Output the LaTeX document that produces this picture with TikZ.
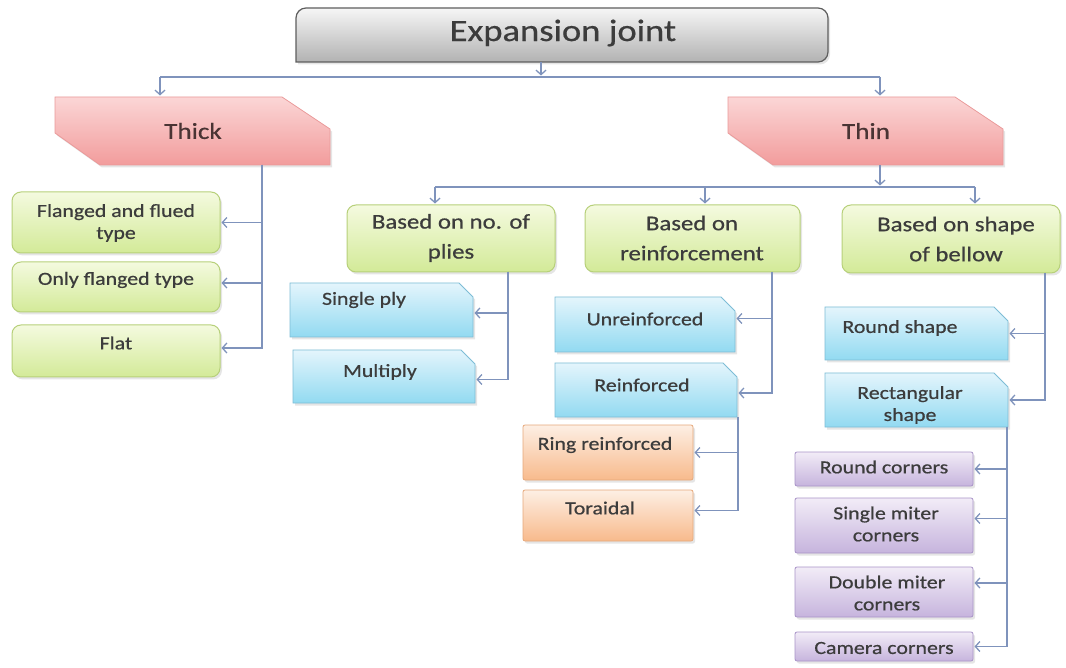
\documentclass[tikz,border=0pt]{standalone}
\usepackage{fontspec}
\setmainfont{Carlito}[FakeStretch=1.18,FakeBold=0.6]
\usetikzlibrary{arrows.meta,shadows}
\pgfdeclarelayer{background}
\pgfsetlayers{background,main}
\definecolor{conn}{HTML}{7F93BC}
\definecolor{gtop}{HTML}{F4FADF}\definecolor{gbot}{HTML}{D3EA98}\definecolor{gline}{HTML}{B7D07A}
\definecolor{btop}{HTML}{E4F5FC}\definecolor{bbot}{HTML}{92DAF1}\definecolor{bline}{HTML}{7DBDD6}
\definecolor{otop}{HTML}{FDEFE4}\definecolor{obot}{HTML}{F8BA8C}\definecolor{oline}{HTML}{E6A87A}
\definecolor{ptop}{HTML}{F2ECF7}\definecolor{pbot}{HTML}{C6B4DD}\definecolor{pline}{HTML}{A994C8}
\definecolor{rtop}{HTML}{FBD6D6}\definecolor{rbot}{HTML}{F29C9C}\definecolor{rline}{HTML}{EA9A9A}
\definecolor{ttop}{HTML}{F6F6F6}\definecolor{tbot}{HTML}{B2B2B2}\definecolor{tline}{HTML}{5E5E5E}
\definecolor{txt}{HTML}{3C3C3C}\definecolor{rtxt}{HTML}{4A3434}
\tikzset{
  bx/.style={rectangle, inner sep=0pt, outer sep=0pt},
  tx/.style={inner sep=0pt, align=center, text=txt},
  line/.style={draw=conn, line width=1.3pt},
  arr/.style={line, -{Straight Barb[length=4.5pt,width=10pt]}, shorten >=1.5pt},
  shd/.style={drop shadow={opacity=0.2, shadow xshift=2pt, shadow yshift=-2.5pt}},
  gbox/.style={bx, rounded corners=9pt, top color=gtop, bottom color=gbot, draw=gline, line width=1pt, shd},
  obox/.style={bx, rounded corners=2pt, top color=otop, bottom color=obot, draw=oline, line width=0.8pt, shd},
  pbox/.style={bx, rounded corners=2pt, top color=ptop, bottom color=pbot, draw=pline, line width=0.8pt, shd},
  big/.style={font=\fontsize{31}{34}\selectfont},
  mid/.style={font=\fontsize{23}{26}\selectfont},
  gfont/.style={font=\fontsize{21}{30}\selectfont},
  sfont/.style={font=\fontsize{18.5}{22}\selectfont},
}
\newcommand\snipbox[1]{\shade[top color=btop,bottom color=bbot,draw=bline,line width=0.8pt,shd]
  (#1.south west) -- (#1.north west) -- ([xshift=-14pt]#1.north east) -- ([yshift=-14pt]#1.north east) -- (#1.south east) -- cycle;}
\newcommand\pinkbox[1]{\shade[top color=rtop,bottom color=rbot,draw=rline,line width=0.8pt,shd]
  (#1.north west) -- ([xshift=-48pt]#1.north east) -- ([yshift=-32pt]#1.north east) -- (#1.south east)
  -- ([xshift=45pt]#1.south west) -- ([yshift=32pt]#1.south west) -- cycle;}
\begin{document}
\begin{tikzpicture}[x=1pt,y=-1pt]
\useasboundingbox (0,0) rectangle (1066,668);
% ---------- boxes ----------
\node[bx, minimum width=532pt, minimum height=54pt] (title) at (562,35) {};
\node[bx, minimum width=275pt, minimum height=68pt] (thick) at (192.5,131) {};
\node[bx, minimum width=275pt, minimum height=68pt] (thin) at (865.5,131) {};
\node[gbox, minimum width=208pt, minimum height=61pt] (ff) at (116,222.5) {};
\node[gbox, minimum width=208pt, minimum height=50pt] (of) at (116,287) {};
\node[gbox, minimum width=208pt, minimum height=52pt] (fl) at (116,351) {};
\node[gbox, minimum width=208pt, minimum height=67pt] (plies) at (451,238.5) {};
\node[gbox, minimum width=215pt, minimum height=67pt] (reinf) at (692.5,238.5) {};
\node[gbox, minimum width=218pt, minimum height=68pt] (shape) at (951,239) {};
\node[bx, minimum width=183pt, minimum height=54pt] (sp) at (381.5,310) {};
\node[bx, minimum width=182pt, minimum height=53pt] (mp) at (384,376.5) {};
\node[bx, minimum width=180pt, minimum height=55pt] (ur) at (645,324.5) {};
\node[bx, minimum width=182pt, minimum height=54pt] (rf) at (646,390) {};
\node[bx, minimum width=183pt, minimum height=53pt] (rs) at (916.5,333.5) {};
\node[bx, minimum width=183pt, minimum height=54pt] (rc) at (916.5,400) {};
\node[obox, minimum width=170pt, minimum height=55pt] (ring) at (608,452.5) {};
\node[obox, minimum width=170pt, minimum height=51pt] (tor) at (608,515.5) {};
\node[pbox, minimum width=178pt, minimum height=34pt] (rcn) at (884,469) {};
\node[pbox, minimum width=178pt, minimum height=55pt] (smc) at (884,525.5) {};
\node[pbox, minimum width=178pt, minimum height=50pt] (dmc) at (884,592) {};
\node[pbox, minimum width=178pt, minimum height=29pt] (cam) at (884,646.5) {};
\begin{pgfonlayer}{background}
  \fill[white] (0,0) rectangle (1066,668);
  \shade[top color=ttop,bottom color=tbot,draw=tline,line width=1.2pt,shd]
    (title.west) -- (title.south west) -- (title.south) [rounded corners=10pt] -- (title.south east)
    -- (title.north east) -- (title.north west) -- (title.west);
  \pinkbox{thick}
  \pinkbox{thin}
  \snipbox{sp}\snipbox{mp}\snipbox{ur}\snipbox{rf}\snipbox{rs}\snipbox{rc}
\end{pgfonlayer}
% ---------- texts ----------
\node[tx, big] (t-title) at (563,33) {Expansion joint};
\node[tx, mid, text=rtxt] (t-thick) at (193,131) {Thick};
\node[tx, mid, text=rtxt] (t-thin) at (866,131) {Thin};
\node[tx, sfont] (t-ff) at (116,223) {Flanged and flued\\type};
\node[tx, sfont] (t-of) at (116,280) {Only flanged type};
\node[tx, sfont] (t-fl) at (116,343) {Flat};
\node[tx, gfont] (t-plies) at (451,238) {Based on no. of\\plies};
\node[tx, gfont] (t-reinf) at (692,238) {Based on\\reinforcement};
\node[tx, gfont] (t-shape) at (956,239) {Based on shape\\of bellow};
\node[tx, sfont] (t-sp) at (364,300) {Single ply};
\node[tx, sfont] (t-mp) at (380,372) {Multiply};
\node[tx, sfont] (t-ur) at (645,319) {Unreinforced};
\node[tx, sfont] (t-rf) at (642,385) {Reinforced};
\node[tx, sfont] (t-ring) at (605,445) {Ring reinforced};
\node[tx, sfont] (t-tor) at (600,508) {Toraidal};
\node[tx, sfont] (t-rs) at (900,328) {Round shape};
\node[tx, sfont] (t-rc) at (910,405) {Rectangular\\shape};
\node[tx, sfont] (t-rcn) at (884,467) {Round corners};
\node[tx, sfont] (t-smc) at (886,524) {Single miter\\corners};
\node[tx, sfont] (t-dmc) at (887,593) {Double miter\\corners};
\node[tx, sfont] (t-cam) at (884,648) {Camera corners};
% ---------- connectors ----------
\coordinate (j0) at (541,77);
\coordinate (busL) at (160,77);
\coordinate (busR) at (880,77);
\draw[arr] (title.south -| j0) -- (j0);
\draw[line] (busL) -- (busR);
\draw[arr] (busL) -- (busL |- thick.north);
\draw[arr] (busR) -- (busR |- thin.north);
% thick
\coordinate (kbus) at (262,0);
\draw[arr] (thick.south -| kbus) |- (ff.east);
\draw[arr] (thick.south -| kbus) |- ([yshift=4pt]of.east);
\draw[arr] (thick.south -| kbus) |- ([yshift=3pt]fl.east);
% thin
\coordinate (j1) at (880,187);
\coordinate (b2L) at (435,187);
\coordinate (b2M) at (705,187);
\coordinate (b2R) at (975,187);
\draw[arr] (thin.south -| j1) -- (j1);
\draw[line] (b2L) -- (b2R);
\draw[arr] (b2L) -- (b2L |- plies.north);
\draw[arr] (b2M) -- (b2M |- reinf.north);
\draw[arr] (b2R) -- (b2R |- shape.north);
% plies
\coordinate (pbus) at (508,0);
\draw[arr] (plies.south -| pbus) |- ([yshift=-3pt]sp.east);
\draw[arr] (plies.south -| pbus) |- ([yshift=-3pt]mp.east);
% reinforcement
\coordinate (rbus) at (772,0);
\draw[arr] (reinf.south -| rbus) |- ([yshift=6pt]ur.east);
\draw[arr] (reinf.south -| rbus) |- ([yshift=-3pt]rf.east);
\coordinate (fbus) at (738,0);
\draw[arr] (rf.south -| fbus) |- (ring.east);
\draw[arr] (rf.south -| fbus) |- ([yshift=5pt]tor.east);
% shape
\coordinate (sbus) at (1045,0);
\draw[arr] (shape.south -| sbus) |- (rs.east);
\draw[arr] (shape.south -| sbus) |- (rc.east);
\coordinate (cbus) at (1007,0);
\draw[arr] (rc.south -| cbus) |- (rcn.east);
\draw[arr] (rc.south -| cbus) |- ([yshift=7pt]smc.east);
\draw[arr] (rc.south -| cbus) |- ([yshift=9pt]dmc.east);
\draw[arr] (rc.south -| cbus) |- (cam.east);
\end{tikzpicture}
\end{document}
